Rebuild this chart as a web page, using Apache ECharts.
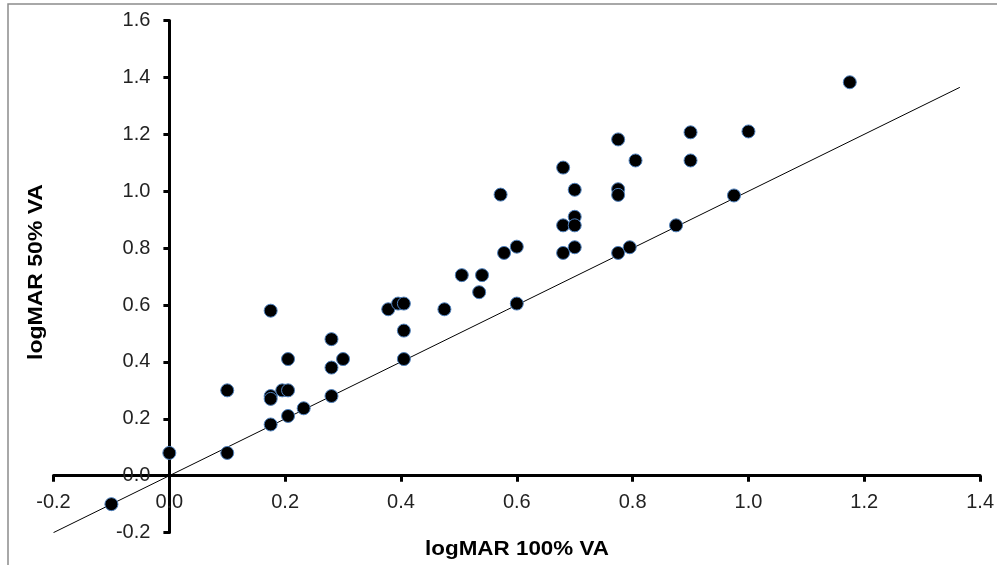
<!DOCTYPE html>
<html>
<head>
<meta charset="utf-8">
<script src="https://cdn.jsdelivr.net/npm/echarts@6/dist/echarts.min.js"></script>
<style>
html,body{margin:0;padding:0;background:#fff;}
#chart{width:997px;height:565px;}
</style>
</head>
<body>
<div id="chart"></div>
<script>
// logMAR 100% VA (x) values
const va100 = [-0.1, 0, 0.1, 0.1, 0.175, 0.175, 0.175, 0.175, 0.195, 0.205, 0.205, 0.205, 0.232, 0.28, 0.28, 0.28, 0.3, 0.378, 0.395, 0.405, 0.405, 0.405, 0.475, 0.505, 0.54, 0.535, 0.578, 0.6, 0.6, 0.572, 0.68, 0.68, 0.68, 0.7, 0.7, 0.7, 0.7, 0.775, 0.775, 0.775, 0.775, 0.795, 0.805, 0.875, 0.9, 0.9, 0.975, 1.0, 1.175];
// logMAR 50% VA (y) values
const va50 = [-0.1, 0.08, 0.08, 0.3, 0.58, 0.28, 0.27, 0.18, 0.3, 0.3, 0.41, 0.21, 0.237, 0.48, 0.38, 0.28, 0.41, 0.585, 0.605, 0.605, 0.51, 0.41, 0.585, 0.705, 0.705, 0.645, 0.783, 0.805, 0.605, 0.988, 1.083, 0.88, 0.783, 1.005, 0.91, 0.88, 0.803, 1.182, 1.007, 0.987, 0.783, 0.803, 1.108, 0.88, 1.108, 1.207, 0.985, 1.21, 1.383];
// line of equality endpoints
const lineX = [-0.2, 1.365];
const lineY = [-0.2, 1.365];
// axis settings
const xTitle = 'logMAR 100% VA';
const yTitle = 'logMAR 50% VA';
const xMin = -0.2, xMax = 1.4, yMin = -0.2, yMax = 1.6, step = 0.2;

const points = va100.map((x, i) => [x, va50[i]]);
const linePts = lineX.map((x, i) => [x, lineY[i]]);

const gridL = 53.5, gridR = 16.3, gridT = 20.5, gridB = 32.4;
const W = 997, H = 565;
// shift axes so they cross at zero
const xSpan = W - gridL - gridR, ySpan = H - gridT - gridB;
const yAxisOffset = -((0 - xMin) / (xMax - xMin)) * xSpan;
const xAxisOffset = -((0 - yMin) / (yMax - yMin)) * ySpan;

const chart = echarts.init(document.getElementById('chart'));
const font = 'Liberation Sans, Arial, sans-serif';
chart.setOption({
  animation: false,
  backgroundColor: '#fff',
  grid: {left: gridL, right: gridR, top: gridT, bottom: gridB, containLabel: false},
  xAxis: {
    type: 'value', min: xMin, max: xMax, interval: step, position: 'bottom', offset: xAxisOffset,
    axisLine: {show: true, onZero: false, lineStyle: {color: '#000', width: 3}},
    axisTick: {show: true, inside: false, length: 6, lineStyle: {color: '#000', width: 3}},
    axisLabel: {margin: 17, color: '#222', fontSize: 20, fontFamily: font, formatter: v => v.toFixed(1)},
    splitLine: {show: false}
  },
  yAxis: {
    type: 'value', min: yMin, max: yMax, interval: step, position: 'left', offset: yAxisOffset,
    axisLine: {show: true, onZero: false, lineStyle: {color: '#000', width: 3}},
    axisTick: {show: true, inside: false, length: 6, lineStyle: {color: '#000', width: 3}},
    axisLabel: {margin: 19, color: '#222', fontSize: 20, fontFamily: font, formatter: v => v.toFixed(1)},
    splitLine: {show: false}
  },
  graphic: [
    {type: 'polyline', shape: {points: [[8, 565], [8, 4], [997, 4]]}, style: {stroke: '#8c8c8c', lineWidth: 1.5, fill: null}, silent: true},
    {type: 'text', x: 517, y: 549, scaleX: 1.12, style: {text: xTitle, textAlign: 'center', textVerticalAlign: 'middle', font: 'bold 20px ' + font, fill: '#000'}},
    {type: 'text', rotation: Math.PI / 2, x: 36, y: 272, scaleX: 1.15, style: {text: yTitle, textAlign: 'center', textVerticalAlign: 'middle', font: 'bold 20px ' + font, fill: '#000'}}
  ],
  series: [
    {type: 'line', data: linePts, symbol: 'none', silent: true, z: 1,
     lineStyle: {color: '#000', width: 1}},
    {type: 'scatter', data: points, symbol: 'circle', symbolSize: 13, z: 3,
     itemStyle: {color: '#000', borderColor: '#4f81bd', borderWidth: 1, opacity: 1}}
  ]
});
</script>
</body>
</html>
